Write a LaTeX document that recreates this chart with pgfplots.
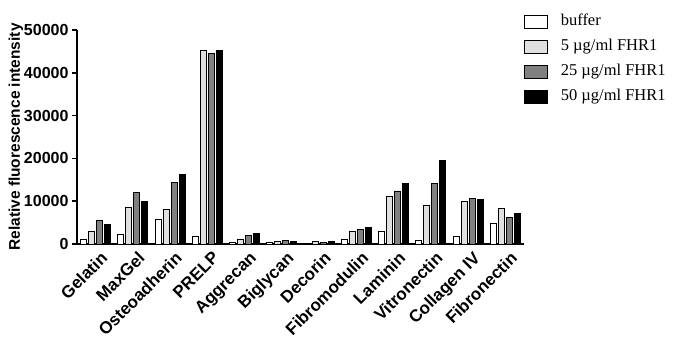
\documentclass[border=0pt]{standalone}
\usepackage{pgfplots}
\pgfplotsset{compat=1.18}
\usepackage{fontspec}
\setmainfont{Liberation Sans}
\newfontfamily\seriffont{Liberation Serif}
\definecolor{lgray}{HTML}{E0E0E0}
\definecolor{mgray}{HTML}{808080}
\pgfplotstableread{
x buffer five twentyfive fifty
0 1100 2900 5600 4500
1 2200 8500 12100 9900
2 5800 8100 14300 16200
3 1700 45200 44500 45200
4 400 1100 1950 2400
5 300 650 750 650
6 200 550 450 650
7 1000 2900 3500 3800
8 2900 11200 12400 14100
9 800 9100 14200 19500
10 1800 10000 10650 10500
11 4750 8250 6150 7200
}\datatable
\pgfplotsset{legbox/.style={legend image code/.code={\draw[##1, line width=0.8bp] (0bp,-6.5bp) rectangle (23bp,6.5bp);}}}
\begin{document}
\begin{tikzpicture}
\begin{axis}[
 at={(77bp,98bp)}, anchor=south west,
 scale only axis, width=447bp, height=214bp,
 ymin=0, ymax=50000, xmin=-0.5, xmax=11.5,
 ybar=2bp, bar width=6bp,
 axis x line=bottom, axis y line=left,
 axis line style={-, line width=1.6bp},
 ytick={0,10000,20000,30000,40000,50000},
 scaled y ticks=false,
 yticklabel style={/pgf/number format/fixed, /pgf/number format/1000 sep={}, font=\fontsize{16bp}{19bp}\selectfont\bfseries},
 /pgf/number format/assume math mode=true,
 ytick style={line width=1.6bp, black},
 tick align=outside, major tick length=5bp,
 xtick=data,
 xticklabels={Gelatin,MaxGel,Osteoadherin,PRELP,Aggrecan,Biglycan,Decorin,Fibromodulin,Laminin,Vitronectin,Collagen IV,Fibronectin},
 xtick style={draw=none},
 xticklabel style={rotate=45, anchor=north east, font=\fontsize{17bp}{20bp}\selectfont\bfseries, inner sep=1bp, xshift=3bp, yshift=-3bp},
 ylabel={Relative fluorescence intensity},
 ylabel style={font=\fontsize{15.5bp}{18bp}\selectfont\bfseries},
 ylabel shift={-6bp},
 legend style={at={(1.0,1.082)}, anchor=north west, draw=none, fill=none, inner sep=0pt, outer sep=0pt,
   font=\seriffont\fontsize{16.5bp}{20bp}\selectfont, row sep=7bp, column sep=13bp,
   nodes={inner sep=0pt, text height=13bp, text depth=5bp}},
 legend cell align=left,
]
\addplot[fill=white, draw=black, line width=0.8bp, legbox] table[x=x, y=buffer] {\datatable};
\addplot[fill=lgray, draw=black, line width=0.8bp, legbox] table[x=x, y=five] {\datatable};
\addplot[fill=mgray, draw=black, line width=0.8bp, legbox] table[x=x, y=twentyfive] {\datatable};
\addplot[fill=black, draw=black, line width=0.8bp, legbox] table[x=x, y=fifty] {\datatable};
\legend{buffer, 5 µg/ml FHR1, 25 µg/ml FHR1, 50 µg/ml FHR1}
\end{axis}
\pgfresetboundingbox
\useasboundingbox (0,0) rectangle (679bp,342bp);
\end{tikzpicture}
\end{document}
